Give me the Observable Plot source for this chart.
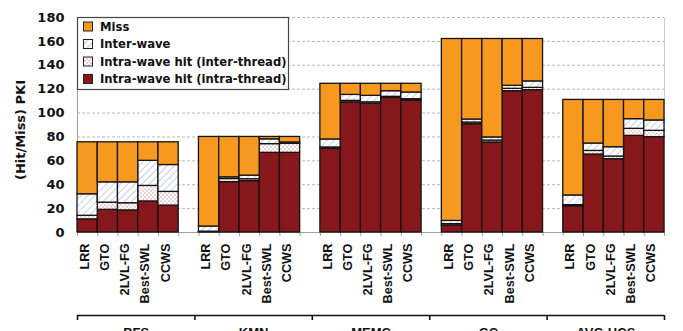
<!DOCTYPE html>
<html>
<head>
<meta charset="utf-8">
<script src="https://cdn.jsdelivr.net/npm/d3@7"></script>
<script src="https://cdn.jsdelivr.net/npm/@observablehq/plot@0.6"></script>
<style>
  html, body { margin: 0; padding: 0; background: #fff; overflow: hidden; }
  #chart { width: 683px; height: 331px; overflow: hidden; }
</style>
</head>
<body>
<div id="chart"></div>
<script>
const groups = ["BFS", "KMN", "MEMC", "GC", "AVG-HCS"];
const schedulers = ["LRR", "GTO", "2LVL-FG", "Best-SWL", "CCWS"];
const yTicks = [0, 20, 40, 60, 80, 100, 120, 140, 160, 180];
const seriesNames = ["Intra-wave hit (intra-thread)", "Intra-wave hit (inter-thread)", "Inter-wave", "Miss"];

// values per bar, ordered group by group (BFS, KMN, MEMC, GC, AVG-HCS), scheduler order as above
const intraThread = [11, 19, 18.5, 26, 22.5,   0.4, 42.2, 43, 66.7, 66.7,   70, 109, 107.7, 112.7, 110.5,   5.8, 90.7, 75.4, 118.3, 119.2,   22, 65.3, 61.4, 80.9, 79.8];
const interThread = [3, 6, 6, 13, 11.5,         0.3, 2.6, 1.6, 7.3, 7.5,     1.2, 1.2, 1.3, 0.9, 1.1,          1.2, 1.4, 1.6, 2, 1.9,             0.9, 3, 2.2, 5.9, 5.3];
const interWave   = [18, 17, 17.5, 21, 22.5,    4.3, 1.4, 3, 4, 1.2,         6.7, 5, 5.4, 4.7, 5.6,            2.7, 2.5, 2.6, 2.5, 5.4,           8.1, 6.2, 7.8, 8.1, 8.7];
const miss        = [43.5, 33.5, 33.5, 15.5, 19, 75, 33.8, 32.4, 2, 4.6,     46.6, 9.3, 10.1, 6.2, 7.3,        152.3, 67.4, 82.4, 39.2, 35.5,     80, 36.5, 39.6, 16.1, 17.2];

const seriesValues = [intraThread, interThread, interWave, miss];
const seriesFill = ["#86171b", "url(#patDots)", "url(#patHatch)", "#f7991f"];

const perGroup = schedulers.length + 1;
const nSlots = groups.length * perGroup - 1;

const rows = [];
const bars = [];
groups.forEach((g, gi) => {
  schedulers.forEach((s, si) => {
    const idx = gi * schedulers.length + si;
    const slot = gi * perGroup + si;
    bars.push({group: g, scheduler: s, slot});
    let base = 0;
    seriesValues.forEach((arr, k) => {
      const v = arr[idx];
      rows.push({series: seriesNames[k], k, x1: slot, x2: slot + 1, y1: base, y2: base + v});
      base += v;
    });
  });
});

const boundaries = [];
groups.forEach((g, gi) => {
  for (let i = 0; i <= schedulers.length; i++) boundaries.push(gi * perGroup + i);
});
const bracketStep = nSlots / groups.length;
const bracketPos = d3.range(groups.length + 1).map(i => i * bracketStep);

const font = "DejaVu Sans";
const font2 = "Liberation Sans";

const marks = [
  Plot.ruleY(yTicks.filter(v => v > 0), {stroke: "#b8b8b8", strokeDasharray: "3,2", strokeWidth: 1}),
  Plot.ruleX([nSlots], {stroke: "#cfcfcf", strokeWidth: 1}),
  Plot.ruleX([0], {stroke: "#a0a0a0", strokeWidth: 1}),
  Plot.ruleY([0], {stroke: "#a0a0a0", strokeWidth: 1}),
  Plot.ruleX(boundaries, {y1: 0, y2: 0, insetBottom: -4, stroke: "#a0a0a0", strokeWidth: 1})
];
seriesNames.forEach((name, k) => {
  marks.push(Plot.rect(rows.filter(r => r.k === k), {
    x1: "x1", x2: "x2", y1: "y1", y2: "y2",
    fill: seriesFill[k], stroke: "#141414", strokeWidth: 1.3, inset: 0
  }));
});
marks.push(
  Plot.axisY(yTicks, {tickSize: 0, tickPadding: 13, fontSize: 13, fontWeight: "bold", fontFamily: font, fill: "#111", label: null}),
  Plot.text(["(Hit/Miss) PKI"], {frameAnchor: "left", textAnchor: "middle", dx: -57, dy: 5, rotate: -90, fontSize: 13, fontWeight: "bold", fontFamily: font, fill: "#111"}),
  Plot.text(bars, {x: d => d.slot + 0.5, frameAnchor: "bottom", dx: 1, dy: 11, rotate: -90, textAnchor: "end", text: "scheduler", fontSize: 12.7, fontWeight: "bold", fontFamily: font2, fill: "#111"}),
  Plot.ruleY([0], {x1: 0, x2: nSlots, dy: 83, stroke: "#111", strokeWidth: 1.6}),
  Plot.ruleX(bracketPos, {y1: 0, y2: 0, dy: 83, insetBottom: -5, stroke: "#111", strokeWidth: 1.6}),
  Plot.text(groups, {x: (d, i) => (i + 0.5) * bracketStep, frameAnchor: "bottom", dy: 95, lineAnchor: "top", text: d => d, fontSize: 13, fontWeight: "bold", fontFamily: font2, fill: "#111"})
);

const plot = Plot.plot({
  width: 683,
  height: 360,
  marginLeft: 77,
  marginRight: 19,
  marginTop: 17,
  marginBottom: 128,
  x: {type: "linear", domain: [0, nSlots], axis: null},
  y: {domain: [0, 180], axis: null},
  style: {fontFamily: font, background: "#fff", overflow: "visible"},
  marks
});

const svg = d3.select(plot);
const defs = svg.insert("defs", ":first-child");
const hatch = defs.append("pattern").attr("id", "patHatch").attr("patternUnits", "userSpaceOnUse")
  .attr("width", 5).attr("height", 5).attr("patternTransform", "rotate(45)");
hatch.append("rect").attr("width", 5).attr("height", 5).attr("fill", "#fff");
hatch.append("line").attr("x1", 0).attr("y1", 0).attr("x2", 0).attr("y2", 5).attr("stroke", "#a9a9dc").attr("stroke-width", 1.2);
const dots = defs.append("pattern").attr("id", "patDots").attr("patternUnits", "userSpaceOnUse")
  .attr("width", 4).attr("height", 4);
dots.append("rect").attr("width", 4).attr("height", 4).attr("fill", "#fff");
dots.append("rect").attr("x", 0.5).attr("y", 0.5).attr("width", 1).attr("height", 1).attr("fill", "#c0504d");
dots.append("rect").attr("x", 2.5).attr("y", 2.5).attr("width", 1).attr("height", 1).attr("fill", "#c0504d");

// legend
const legendItems = ["Miss", "Inter-wave", "Intra-wave hit (inter-thread)", "Intra-wave hit (intra-thread)"];
const legendFill = ["#f7991f", "url(#patHatch)", "url(#patDots)", "#86171b"];
const lg = svg.append("g");
lg.append("rect").attr("x", 77.5).attr("y", 17.5).attr("width", 211).attr("height", 72)
  .attr("fill", "#fff").attr("stroke", "#444").attr("stroke-width", 1.2);
legendItems.forEach((t, i) => {
  const cy = 26.5 + i * 17.5;
  lg.append("rect").attr("x", 83.5).attr("y", cy - 4.5).attr("width", 9).attr("height", 9)
    .attr("fill", legendFill[i]).attr("stroke", "#222").attr("stroke-width", 1);
  lg.append("text").attr("x", 100).attr("y", cy).attr("dy", "0.36em").attr("text-anchor", "start")
    .attr("font-family", font).attr("font-weight", "bold").attr("font-size", 11.6).attr("fill", "#111").text(t);
});

document.getElementById("chart").appendChild(plot);
</script>
</body>
</html>
